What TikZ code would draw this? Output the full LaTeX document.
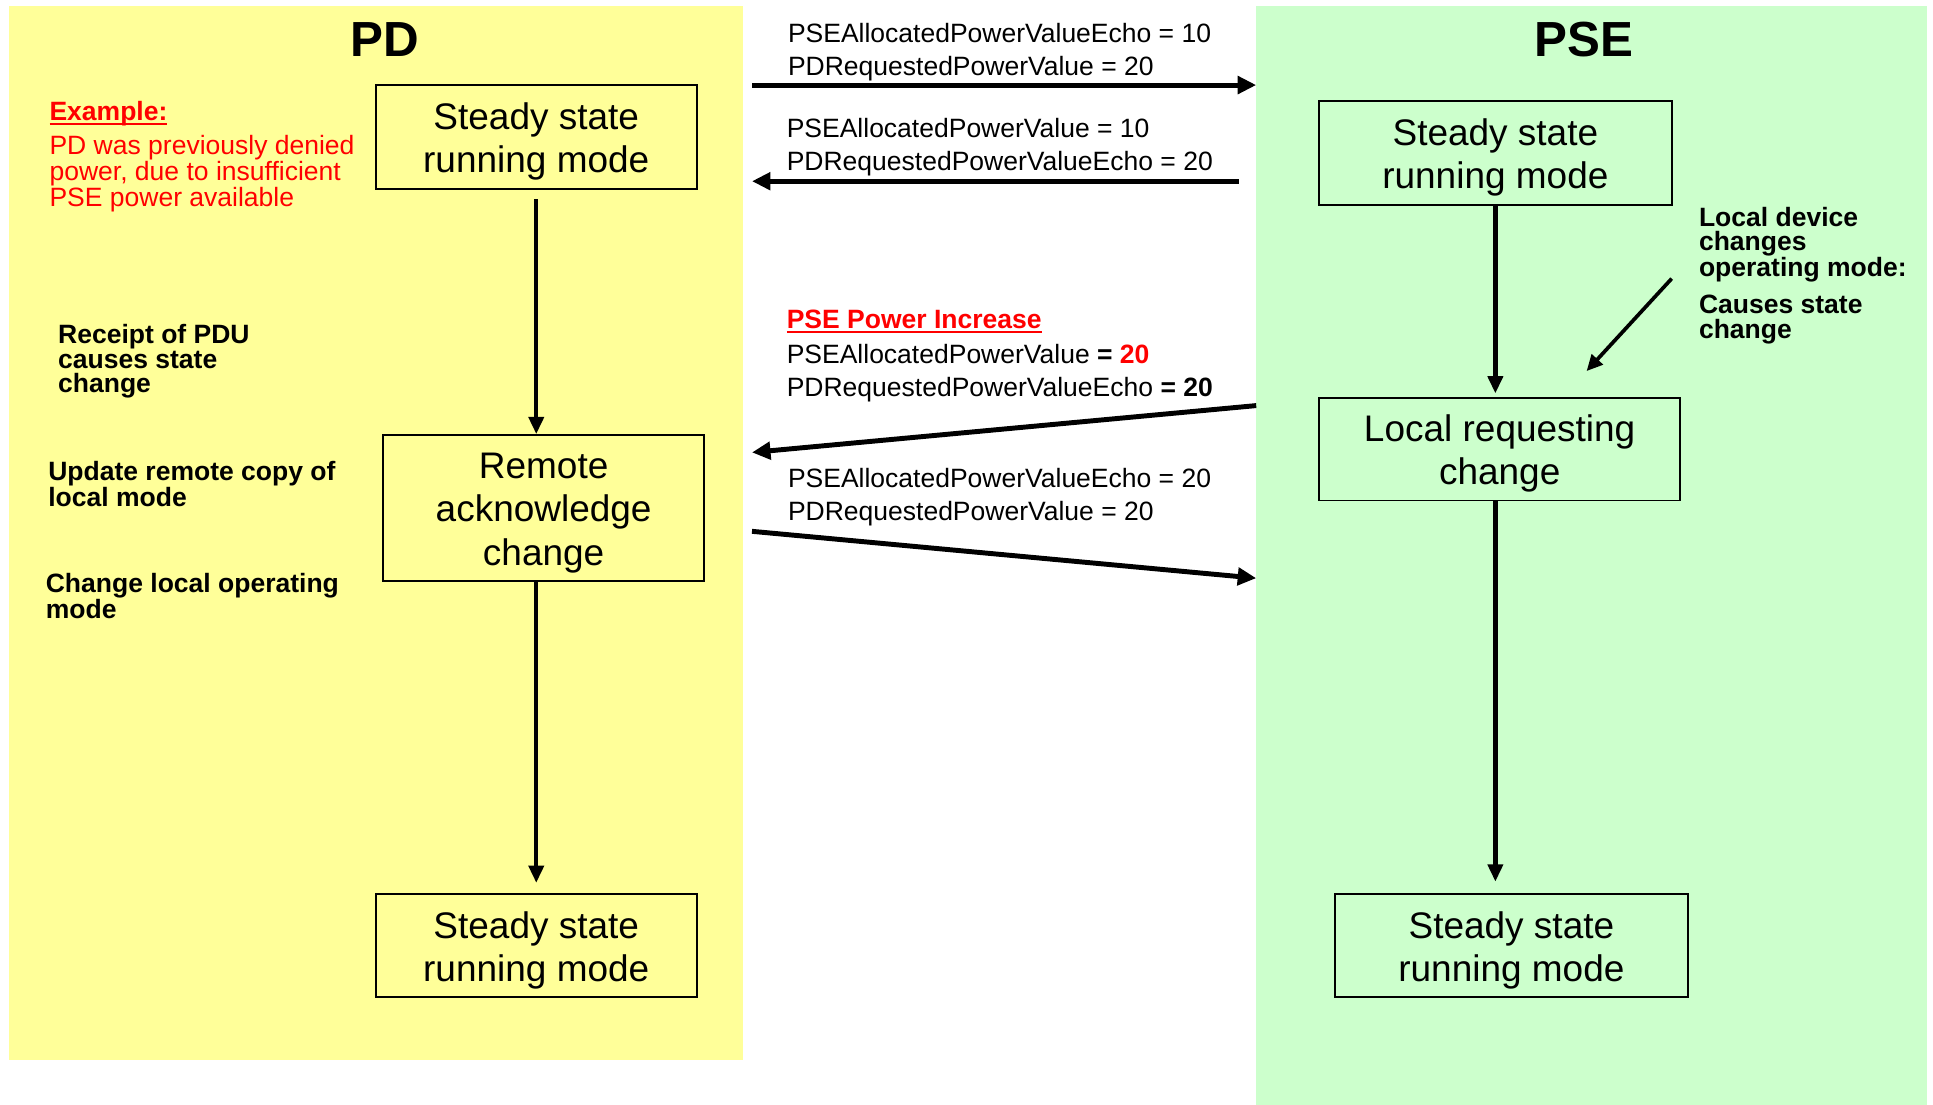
\documentclass[tikz,border=0pt]{standalone}
\usepackage{fontspec}
\setmainfont{Liberation Sans}
\usetikzlibrary{arrows.meta}
\definecolor{pdyellow}{HTML}{FFFF99}
\definecolor{psegreen}{HTML}{CCFFCC}
\definecolor{alertred}{HTML}{FF0000}
% underline drawn with a heavier rule than \underline
\newcommand\heavyul[1]{\setbox0\hbox{#1}\leavevmode\rlap{\rule[-4pt]{\wd0}{2pt}}\box0}
% taller first line inside the state boxes
\newcommand\boxtop{\rule{0pt}{29pt}}
\tikzset{
  statebox/.style={draw, line width=1.6pt, align=center, inner sep=0pt,
    font=\fontsize{30}{35}\selectfont},
  flowarrow/.style={line width=3.5pt, -{Triangle[length=14pt,width=12pt]}},
  msgarrow/.style={line width=4pt, -{Triangle[length=15pt,width=14pt]}},
  msglabel/.style={inner sep=0pt, anchor=west, align=left,
    font=\fontsize{21.5}{27}\selectfont},
  note/.style={inner sep=0pt, anchor=west, align=left,
    font=\bfseries\fontsize{21.5}{20}\selectfont},
  rednote/.style={inner sep=0pt, anchor=west, align=left, text=alertred,
    font=\fontsize{21.5}{21}\selectfont},
  redhead/.style={inner sep=0pt, anchor=west, text=alertred,
    font=\bfseries\fontsize{21.5}{21}\selectfont},
  title/.style={inner sep=0pt, font=\bfseries\fontsize{40}{44}\selectfont}
}
\begin{document}
\begin{tikzpicture}[x=1pt, y=-1pt]
\useasboundingbox (0,0) rectangle (1568,896);
% side panels
\fill[pdyellow] (7,5) rectangle (603,860);
\fill[psegreen] (1019,5) rectangle (1563,896);

% titles
\node[title] (pdtitle) at (312,32) {PD};
\node[title] (psetitle) at (1285,32) {PSE};

% PD state machine
\node[statebox, minimum width=260pt, minimum height=84pt] (pd1) at (435,111)
  {\boxtop Steady state\\running mode};
\node[statebox, minimum width=260pt, minimum height=118pt] (pd2) at (441,412)
  {\boxtop Remote\\acknowledge\\change};
\node[statebox, minimum width=260pt, minimum height=84pt] (pd3) at (435,767)
  {\boxtop Steady state\\running mode};

% PSE state machine
\node[statebox, minimum width=286pt, minimum height=84pt] (pse1) at (1213,124)
  {\boxtop Steady state\\running mode};
\node[statebox, minimum width=293pt, minimum height=83pt] (pse2) at (1216.5,364.5)
  {\boxtop Local requesting\\change};
\node[statebox, minimum width=286pt, minimum height=84pt] (pse3) at (1226,767)
  {\boxtop Steady state\\running mode};

% transitions
\draw[flowarrow, shorten <=8pt] (pd1.south -| 435,0) -- (pd2.north -| 435,0);
\draw[flowarrow, shorten >=8pt] (pd2.south -| 435,0) -- (pd3.north -| 435,0);
\draw[flowarrow, shorten >=3pt] (pse1.south -| 1213,0) -- (pse2.north -| 1213,0);
\draw[flowarrow, shorten >=9pt] (pse2.south -| 1213,0) -- (pse3.north -| 1213,0);

% red example note
\node[redhead] (example) at (40,92) {\heavyul{Example:}};
\node[rednote] (exampletext) at (40,141)
  {PD was previously denied\\power, due to insufficient\\PSE power available};

% PD side notes
\node[note] (receipt) at (47,293) {Receipt of PDU\\causes state\\change};
\node[note] (update) at (39,392.5) {Update remote copy of\\local mode};
\node[note] (changelocal) at (37,483.5) {Change local operating\\mode};

% PSE side notes
\node[note] (localdev) at (1378,198.5) {Local device\\changes\\operating mode:};
\node[note] (causes) at (1378,259) {Causes state\\change};
\coordinate (trigS) at (1356,226);
\coordinate (trigE) at (1287,301);
\draw[line width=3pt, -{Triangle[length=13pt,width=12pt]}] (trigS) -- (trigE);

% messages between PD and PSE
\node[msglabel] (msg1) at (639,42.5)
  {PSEAllocatedPowerValueEcho = 10\\PDRequestedPowerValue = 20};
\coordinate (m1s) at (610,69);
\coordinate (m1e) at (1019,69);
\draw[msgarrow] (m1s) -- (m1e);

\node[msglabel] (msg2) at (638,119.5)
  {PSEAllocatedPowerValue = 10\\PDRequestedPowerValueEcho = 20};
\coordinate (m2s) at (1005,147);
\coordinate (m2e) at (610,147);
\draw[msgarrow] (m2s) -- (m2e);

\node[redhead] (increase) at (638,261) {\heavyul{PSE Power Increase}};
\node[msglabel] (msg3) at (638,302.5)
  {PSEAllocatedPowerValue \textbf{= \textcolor{alertred}{20}}\\
   PDRequestedPowerValueEcho \textbf{= 20}};
\coordinate (m3s) at (1019,329);
\coordinate (m3e) at (610,367);
\draw[msgarrow] (m3s) -- (m3e);

\node[msglabel] (msg4) at (639,403.5)
  {PSEAllocatedPowerValueEcho = 20\\PDRequestedPowerValue = 20};
\coordinate (m4s) at (610,431);
\coordinate (m4e) at (1019,469);
\draw[msgarrow] (m4s) -- (m4e);
\end{tikzpicture}
\end{document}
